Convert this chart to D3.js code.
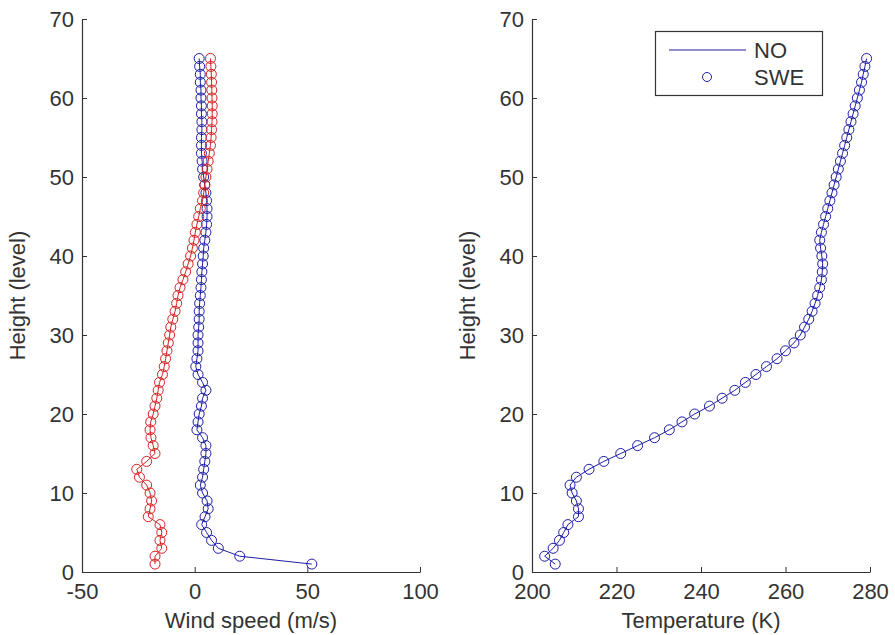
<!DOCTYPE html>
<html>
<head>
<meta charset="utf-8">
<script src="https://cdn.jsdelivr.net/npm/d3@7"></script>
<style>
  html, body { margin: 0; padding: 0; background: #fff; }
  svg { display: block; }
  text { font-family: "Liberation Sans", Arial, sans-serif; fill: #333; }
</style>
</head>
<body>
<svg id="chart" width="895" height="635"></svg>
<script>
const levels = [1,2,3,4,5,6,7,8,9,10,11,12,13,14,15,16,17,18,19,20,21,22,23,24,25,26,27,28,29,30,31,32,33,34,35,36,37,38,39,40,41,42,43,44,45,46,47,48,49,50,51,52,53,54,55,56,57,58,59,60,61,62,63,64,65];

const windBlue = [52, 20, 10.5, 7.5, 5.3, 3.1, 4.6, 6, 5.5, 3.5,
  2.5, 3.5, 4, 4.5, 5, 5, 3.5, 1, 1.5, 2,
  3, 3.5, 5, 3.5, 1.5, 0.5, 1, 1.5, 1.5, 1.5,
  1.8, 2, 2, 2.2, 2.5, 2.8, 3, 3.2, 3.5, 3.8,
  4, 4.5, 5, 5.3, 5.5, 5.5, 5.3, 5, 4.5, 4,
  3.5, 3.3, 3, 3, 3, 3.2, 3.2, 3, 3, 2.8,
  2.8, 2.5, 2.5, 2.2, 2];

const windRed = [-17.6, -17.6, -14.6, -15.4, -14.6, -15.4, -20.6, -19.8, -19.1, -19.8,
  -21.3, -24.5, -25.7, -21.3, -17.6, -18.4, -19.4, -19.8, -19.5, -18.4,
  -17.6, -16.8, -16.2, -15.6, -14.3, -13.5, -12.9, -12.3, -11.7, -11.1,
  -10.6, -9.7, -8.7, -8, -7.4, -6.5, -5.2, -4, -2.9, -1.8,
  -1, -0.3, 0.3, 1, 1.8, 2.5, 3.5, 4, 4.5, 5,
  5.5, 6, 6.5, 7, 7.3, 7.5, 7.7, 7.8, 7.8, 7.7,
  7.6, 7.5, 7.4, 7.2, 7];

const temperature = [205.5, 203, 205, 206.5, 207.5, 208.5, 211, 211, 210.5, 209.5,
  209, 210.5, 213.5, 217, 221, 225, 229, 232.5, 235.5, 238.5,
  242, 245, 248, 250.5, 253, 255.5, 258, 260, 262, 263.5,
  264.5, 265.5, 266.3, 267, 267.6, 268.1, 268.5, 268.7, 268.8, 268.6,
  268.3, 268.1, 268.5, 269, 269.5, 270, 270.5, 271, 271.5, 272,
  272.5, 273, 273.5, 274, 274.5, 275, 275.5, 276, 276.5, 277,
  277.5, 278, 278.4, 278.8, 279.2];

const yTicks = [0, 10, 20, 30, 40, 50, 60, 70];
const windTicks = [-50, 0, 50, 100];
const tempTicks = [200, 220, 240, 260, 280];
const legendLabels = ["NO", "SWE"];

const BLUE = "#1e1ea6";
const RED = "#d42222";
const AXIS = "#333";
const FONT = "22px";

const svg = d3.select("#chart");

const y = d3.scaleLinear().domain([0, 70]).range([572, 19]);
const x1 = d3.scaleLinear().domain([-50, 100]).range([82, 420]);
const x2 = d3.scaleLinear().domain([200, 280]).range([532, 870]);

const fmt = d => String(d);

function drawAxes(x, xTicks, xLabel) {
  const g = svg.append("g");
  const gx = g.append("g").attr("transform", `translate(0,${y(0)})`)
    .call(d3.axisBottom(x).tickValues(xTicks).tickSizeInner(-5).tickSizeOuter(0).tickPadding(13).tickFormat(fmt));
  const gy = g.append("g").attr("transform", `translate(${x.range()[0]},0)`)
    .call(d3.axisLeft(y).tickValues(yTicks).tickSizeInner(-5).tickSizeOuter(0).tickPadding(8).tickFormat(fmt));
  [gx, gy].forEach(a => {
    a.select(".domain").attr("stroke", AXIS).attr("stroke-width", 1.2);
    a.selectAll(".tick line").attr("stroke", AXIS).attr("stroke-width", 1);
    a.selectAll(".tick text").style("font-size", FONT).style("fill", "#333")
      .style("font-family", '"Liberation Sans", Arial, sans-serif');
  });
  gx.selectAll(".tick text").attr("dy", "0.62em");
  g.append("text")
    .attr("x", (x.range()[0] + x.range()[1]) / 2)
    .attr("y", 628)
    .attr("text-anchor", "middle")
    .style("font-size", FONT)
    .text(xLabel);
  g.append("text")
    .attr("transform", `translate(${x.range()[0] - 57},${(y(0) + y(70)) / 2}) rotate(-90)`)
    .attr("text-anchor", "middle")
    .style("font-size", FONT)
    .text("Height (level)");
}

function drawSeries(x, values, color) {
  const pts = levels.map((l, i) => ({ l, v: values[i] }));
  const line = d3.line().x(d => x(d.v)).y(d => y(d.l));
  svg.append("path").datum(pts)
    .attr("d", line).attr("fill", "none").attr("stroke", color).attr("stroke-width", 1);
  svg.append("g").selectAll("circle").data(pts).join("circle")
    .attr("cx", d => x(d.v)).attr("cy", d => y(d.l)).attr("r", 5)
    .attr("fill", "none").attr("stroke", color).attr("stroke-width", 1);
}

drawAxes(x1, windTicks, "Wind speed (m/s)");
drawAxes(x2, tempTicks, "Temperature (K)");

drawSeries(x1, windBlue, BLUE);
drawSeries(x1, windRed, RED);
drawSeries(x2, temperature, BLUE);

// legend
const lg = svg.append("g");
lg.append("rect").attr("x", 655.5).attr("y", 31.5).attr("width", 167).attr("height", 64)
  .attr("fill", "#fff").attr("stroke", AXIS).attr("stroke-width", 1.2);
lg.append("line").attr("x1", 669).attr("x2", 746).attr("y1", 50).attr("y2", 50)
  .attr("stroke", BLUE).attr("stroke-width", 1);
lg.append("circle").attr("cx", 707).attr("cy", 77).attr("r", 4.5)
  .attr("fill", "none").attr("stroke", BLUE).attr("stroke-width", 1);
lg.selectAll("text.lab").data(legendLabels).join("text").attr("class", "lab")
  .attr("x", 754).attr("y", (d, i) => 50 + i * 27).attr("dy", "0.35em")
  .style("font-size", FONT).text(d => d);
</script>
</body>
</html>
